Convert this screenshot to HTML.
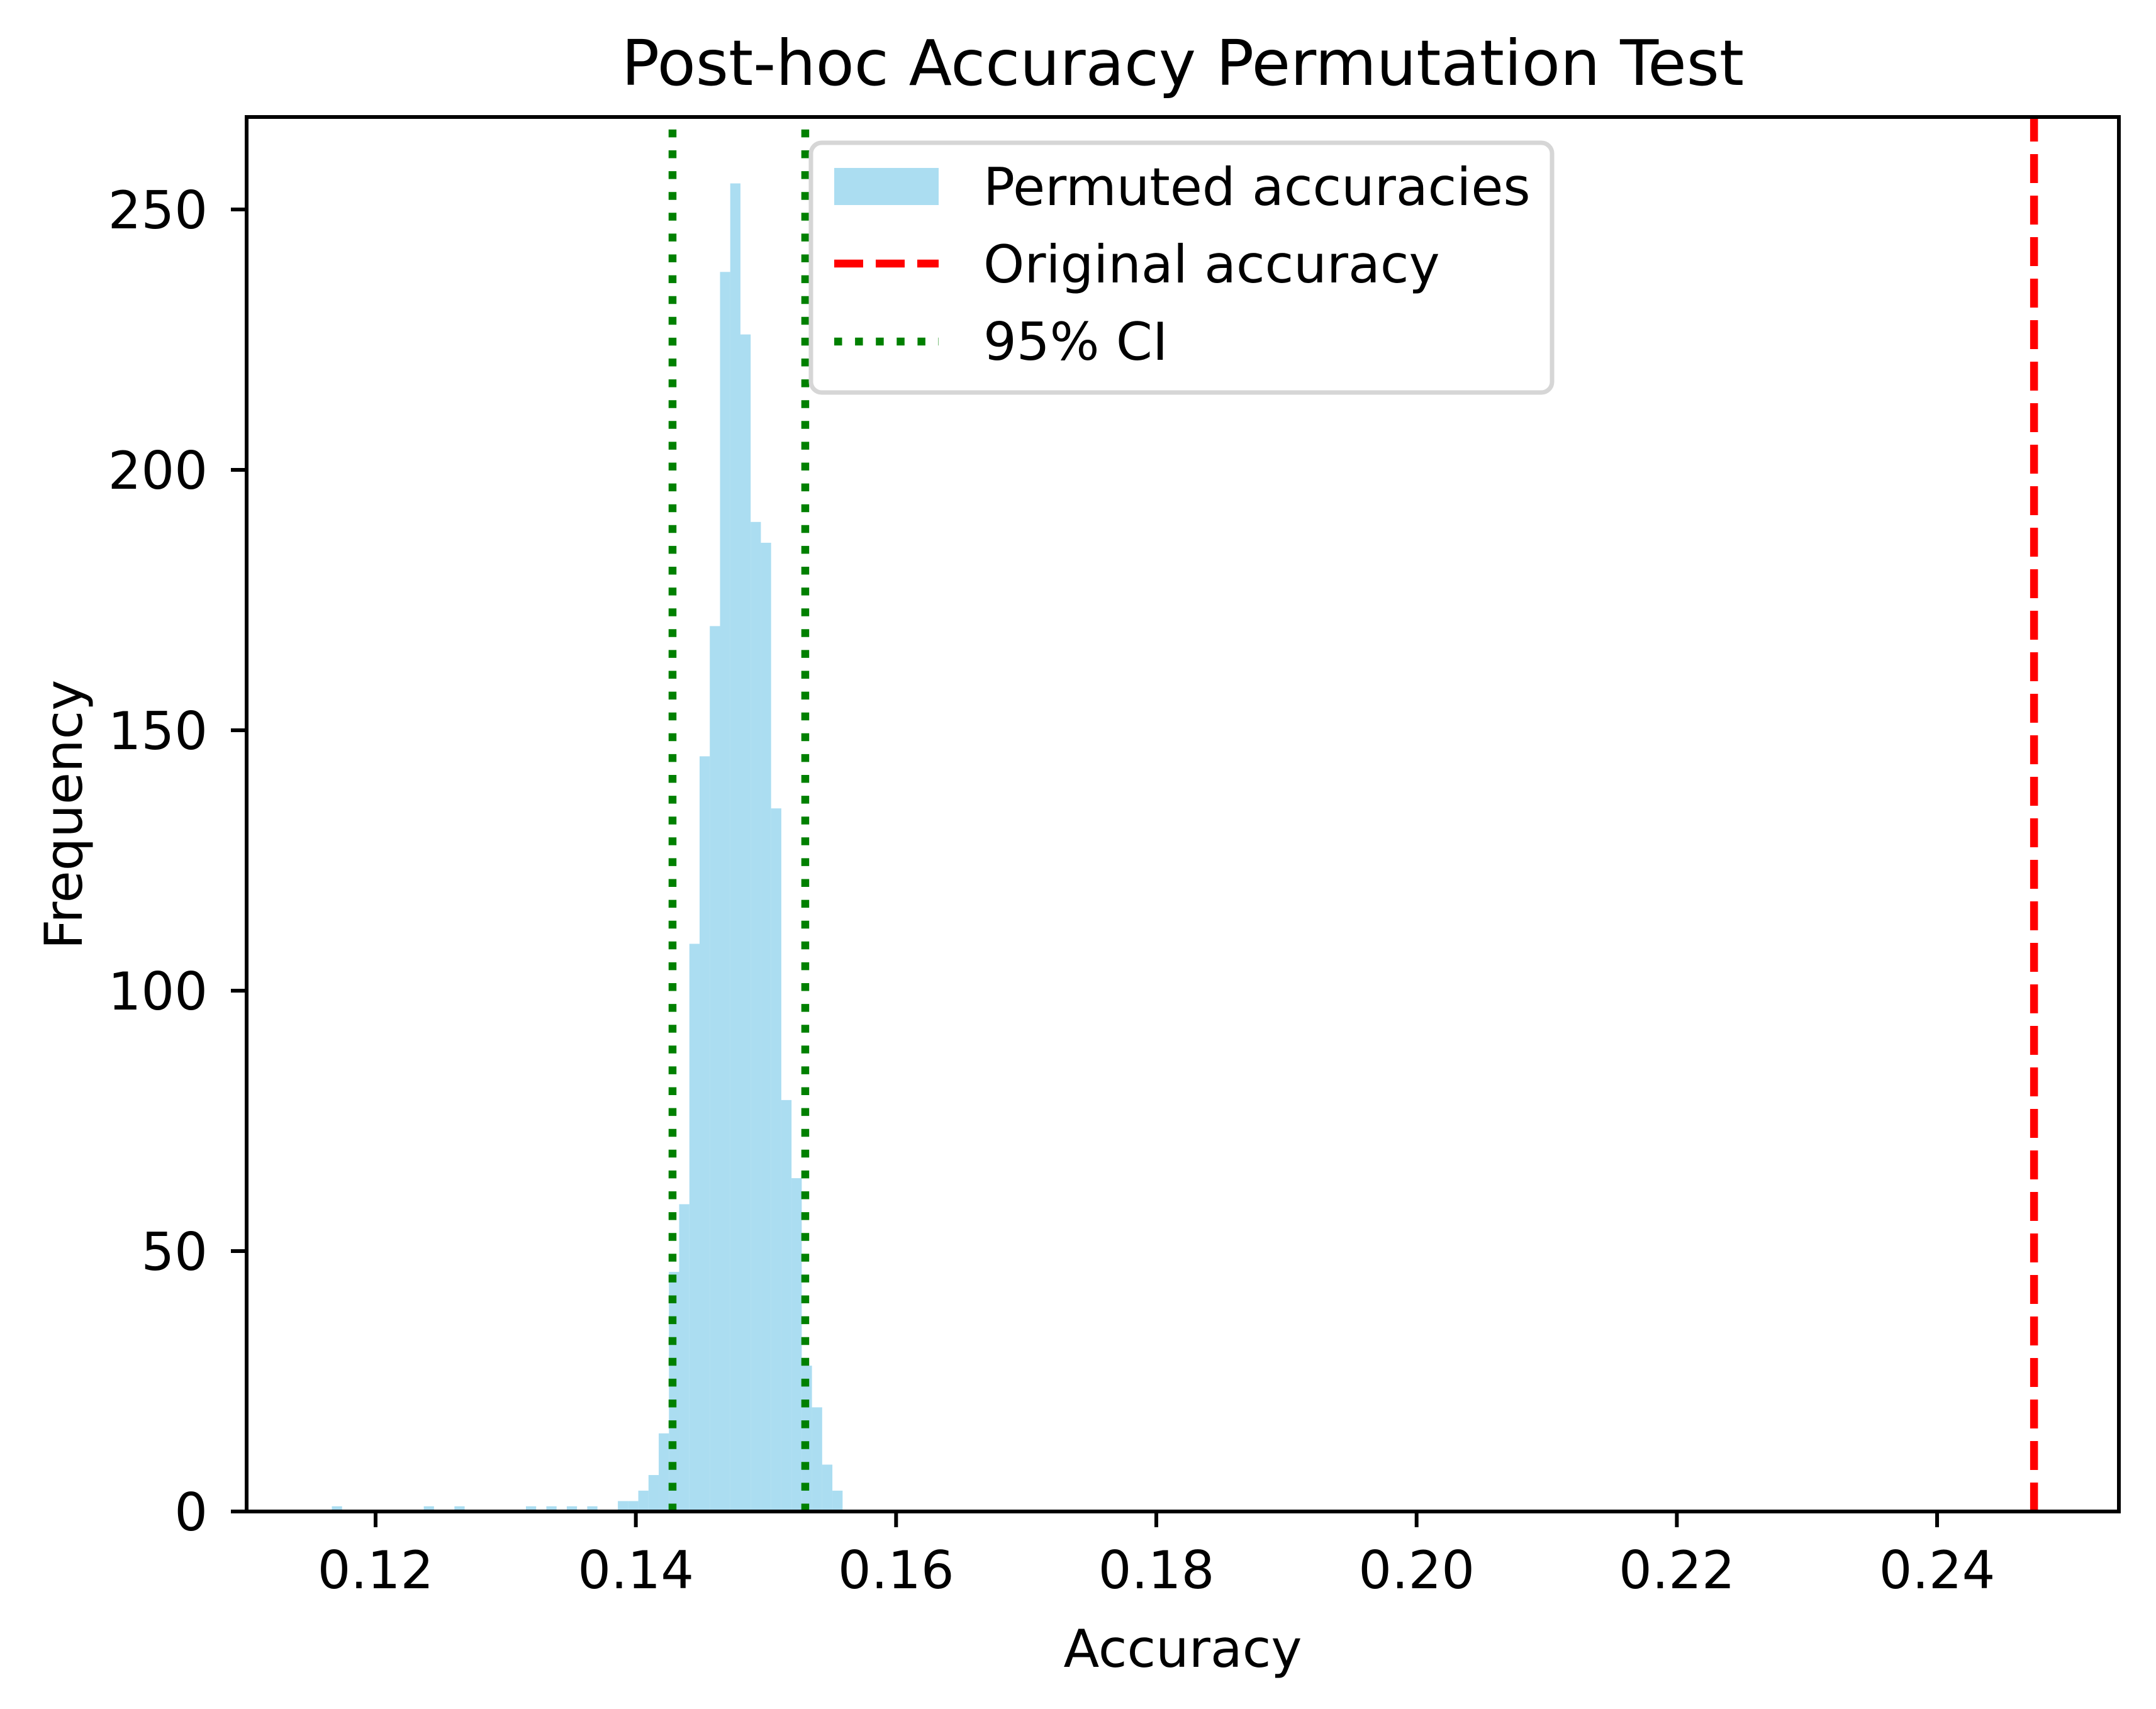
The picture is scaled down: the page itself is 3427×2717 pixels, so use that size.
<!DOCTYPE html>
<html><head><meta charset="utf-8"><style>
html,body{margin:0;padding:0;background:#fff}
svg{display:block;font-family:"DejaVu Sans","Liberation Sans",sans-serif}
</style></head><body>
<svg id="chart" width="3427" height="2717" viewBox="0 0 3427 2717" xmlns="http://www.w3.org/2000/svg">
<rect x="0" y="0" width="3427" height="2717" fill="#fff"/>
<g id="bars"></g>
<g id="refs"></g>
<g id="axes"></g>
<text x="1880" y="135" font-size="100" text-anchor="middle">Post-hoc Accuracy Permutation Test</text>
<text x="1880" y="2650" font-size="83" text-anchor="middle">Accuracy</text>
<text transform="translate(130,1295) rotate(-90)" font-size="83" text-anchor="middle">Frequency</text>
<g>
<rect x="1289" y="227" width="1178" height="397" rx="17" fill="#fff" fill-opacity="0.8" stroke="#d6d6d6" stroke-width="7"/>
<rect x="1326" y="267" width="166" height="59" fill="skyblue" fill-opacity="0.7"/>
<line x1="1326" y1="419" x2="1492" y2="419" stroke="#ff0000" stroke-width="12.5" stroke-dasharray="46 20"/>
<line x1="1326" y1="543" x2="1492" y2="543" stroke="#008000" stroke-width="12.5" stroke-dasharray="12.5 20.6"/>
<text x="1563" y="326" font-size="83">Permuted accuracies</text>
<text x="1563" y="449" font-size="83">Original accuracy</text>
<text x="1563" y="572" font-size="83">95% CI</text>
</g>
</svg>
<script>
const binStart = 0.11664;
const binWidth = 0.000785;
const counts = [1,0,0,0,0,0,0,0,0,1,0,0,1,0,0,0,0,0,0,1,0,1,0,1,0,1,0,0,2,2,4,7,15,46,59,109,145,170,238,255,226,190,186,135,79,64,28,20,9,4];
const originalAccuracy = [0.24745];
const ciBounds = [0.14282, 0.15302];
const xTicks = [0.12,0.14,0.16,0.18,0.20,0.22,0.24];
const xTickLabels = ["0.12","0.14","0.16","0.18","0.20","0.22","0.24"];
const yTicks = [0,50,100,150,200,250];
const yTickLabels = ["0","50","100","150","200","250"];

const L=392,R=3368,T=186,B=2403;
const xMin=0.11009,xMax=0.25397,yMin=0,yMax=267.75;
const sx=v=>L+(v-xMin)/(xMax-xMin)*(R-L);
const sy=v=>B-(v-yMin)/(yMax-yMin)*(B-T);
const NS="http://www.w3.org/2000/svg";
function mk(tag,attrs,parent){const e=document.createElementNS(NS,tag);for(const k in attrs)e.setAttribute(k,attrs[k]);parent.appendChild(e);return e;}

const bars=document.getElementById('bars');
counts.forEach((c,i)=>{
  if(c<=0)return;
  const x0=sx(binStart+i*binWidth),x1=sx(binStart+(i+1)*binWidth);
  const r=mk('rect',{x:x0,y:sy(c),width:x1-x0,height:sy(0)-sy(c),fill:'skyblue','fill-opacity':0.7},bars);
  
  
});

const refs=document.getElementById('refs');
originalAccuracy.forEach(v=>{
  const l=mk('line',{x1:sx(v),x2:sx(v),y1:B,y2:T,stroke:'#ff0000','stroke-width':12.5,'stroke-dasharray':'46 20'},refs);
  
  
});
ciBounds.forEach(v=>{
  const l=mk('line',{x1:sx(v),x2:sx(v),y1:B,y2:T,stroke:'#008000','stroke-width':12.5,'stroke-dasharray':'12.5 20.6'},refs);
  
  
});

const axes=document.getElementById('axes');
xTicks.forEach((v,i)=>{
  const x=sx(v);
  const t=mk('line',{x1:x,x2:x,y1:B,y2:B+25,stroke:'#000','stroke-width':6},axes);
  
  
  const tx=mk('text',{x:x,y:2525,'font-size':83,'text-anchor':'middle'},axes);
  tx.textContent=xTickLabels[i];
  
  
});
yTicks.forEach((v,i)=>{
  const y=sy(v);
  const t=mk('line',{x1:L-25,x2:L,y1:y,y2:y,stroke:'#000','stroke-width':6},axes);
  
  
  const tx=mk('text',{x:330,y:y+30,'font-size':83,'text-anchor':'end'},axes);
  tx.textContent=yTickLabels[i];
  
  
});
const frame=mk('rect',{x:L,y:T,width:R-L,height:B-T,fill:'none',stroke:'#000','stroke-width':6},axes);


</script>
</body></html>
